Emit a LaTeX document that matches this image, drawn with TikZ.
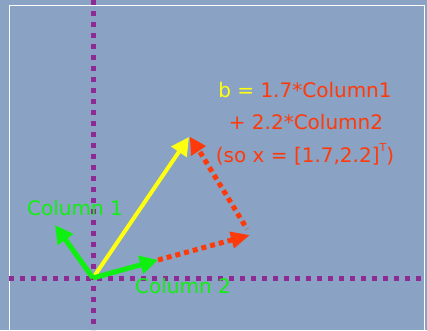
\documentclass[tikz,border=0pt]{standalone}
\usepackage{fontspec}
\setmainfont{DejaVu Sans}
\usetikzlibrary{arrows.meta}
\definecolor{bgblue}{HTML}{8AA2C3}
\definecolor{axpurple}{HTML}{8E2A93}
\definecolor{vred}{HTML}{FF3A0A}
\definecolor{vgreen}{HTML}{10F010}
\definecolor{vyellow}{HTML}{FFFF10}
\tikzset{
  axis/.style={axpurple, line width=5pt, dash pattern=on 5pt off 6pt},
  vec/.style={line width=5pt, -{Triangle[length=18pt,width=18pt]}},
  dotvec/.style={vred, line width=5pt, dash pattern=on 5pt off 4pt, -{Triangle[length=19pt,width=16pt]}},
  lbl/.style={font=\fontsize{20}{24}\selectfont, inner sep=0pt},
}
\begin{document}
\begin{tikzpicture}[x=1pt,y=-1pt]
\fill[bgblue] (0,0) rectangle (427,330);
\useasboundingbox (0,0) rectangle (427,330);
\draw[white, line width=1pt] (9,5) -- (424,5) -- (424,332) (9,332) -- (9,5);
\coordinate (O) at (93,278);
\coordinate (C1) at (55,225);
\coordinate (C2) at (158,260);
\coordinate (B) at (189,137);
\coordinate (P) at (250,235);
\coordinate (Ps) at (247,229);
\coordinate (Bs) at (200,152);
\coordinate (vt) at (93,0);
\coordinate (vb) at (93,330);
\coordinate (hl) at (9,278);
\coordinate (hr) at (427,278);
\draw[axis] (vt) -- (vb);
\draw[axis] (hl) -- (hr);
\draw[dotvec] (C2) -- (P);
\draw[vred, line width=5pt, dash pattern=on 5pt off 4pt] (Bs) -- (Ps);
\fill[vred] (190,137) -- (206,146) -- (191,156) -- cycle;
\draw[vec, vyellow, line width=4pt] (O) -- (B);
\draw[vec, vgreen] (O) -- (C1);
\draw[vec, vgreen] (O) -- (C2);
\node[lbl, text=vgreen] (l1) at (75,208) {Column 1};
\node[lbl, text=vgreen] (l2) at (183,286) {Column 2};
\node[lbl, text=vred] (t1) at (305,90) {\textcolor{vyellow}{b =} 1.7*Column1};
\node[lbl, text=vred] (t2) at (306,122) {+ 2.2*Column2};
\node[lbl, text=vred] (t3) at (305,154) {(so x = [1.7,2.2]\raisebox{1.0ex}{\fontsize{11}{11}\selectfont T})};
\end{tikzpicture}
\end{document}
